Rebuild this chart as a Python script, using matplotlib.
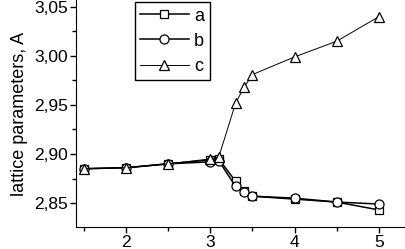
import numpy as np
import matplotlib.pyplot as plt
from matplotlib.ticker import FuncFormatter, MultipleLocator

plt.rcParams['font.family'] = ['Liberation Sans', 'DejaVu Sans']

x = [1.5, 2.0, 2.5, 3.0, 3.1, 3.3, 3.4, 3.5, 4.0, 4.5, 5.0]
a = [2.885, 2.886, 2.890, 2.894, 2.895, 2.872, 2.862, 2.857, 2.854, 2.851, 2.843]
b = [2.885, 2.886, 2.890, 2.892, 2.893, 2.867, 2.861, 2.857, 2.855, 2.851, 2.849]
c = [2.885, 2.886, 2.890, 2.895, 2.897, 2.952, 2.968, 2.981, 2.999, 3.015, 3.040]

fig = plt.figure(figsize=(4.05, 2.49), dpi=100)
ax = fig.add_axes([0.188, 0.088, 0.812, 0.912])

ax.plot(x, a, '-s', color='black', lw=1.1, ms=5.5, mfc='white', mew=0.9, label='a')
ax.plot(x, b, '-o', color='black', lw=1.1, ms=6.5, mfc='white', mew=0.9, label='b')
ax.plot(x, c, '-^', color='black', lw=0.7, ms=7, mfc='white', mew=0.9, label='c')

ax.set_xlim(1.407, 5.31)
ax.set_ylim(2.8255, 3.057)
ax.xaxis.set_major_locator(MultipleLocator(1))
ax.xaxis.set_minor_locator(MultipleLocator(0.5))
ax.yaxis.set_major_locator(MultipleLocator(0.05))
ax.yaxis.set_minor_locator(MultipleLocator(0.025))
ax.yaxis.set_major_formatter(FuncFormatter(lambda v, p: "{0:.2f}".format(v).replace('.', ',')))
ax.tick_params(which='major', direction='out', length=4, labelsize=12.5, width=1, pad=2)
ax.tick_params(which='minor', direction='out', length=3, width=1)
for s in ['top', 'right']:
    ax.spines[s].set_visible(False)
ax.set_ylabel("lattice parameters, A", fontsize=13, labelpad=4)

leg = ax.legend(loc='upper left', bbox_to_anchor=(0.178, 0.99), fontsize=13,
                frameon=True, fancybox=False, edgecolor='black', handlelength=2.7,
                borderpad=0.3, borderaxespad=0, labelspacing=0.45, handletextpad=0.3,
                framealpha=1)
leg.get_frame().set_linewidth(1.0)

fig.savefig('out.png', dpi=100)
